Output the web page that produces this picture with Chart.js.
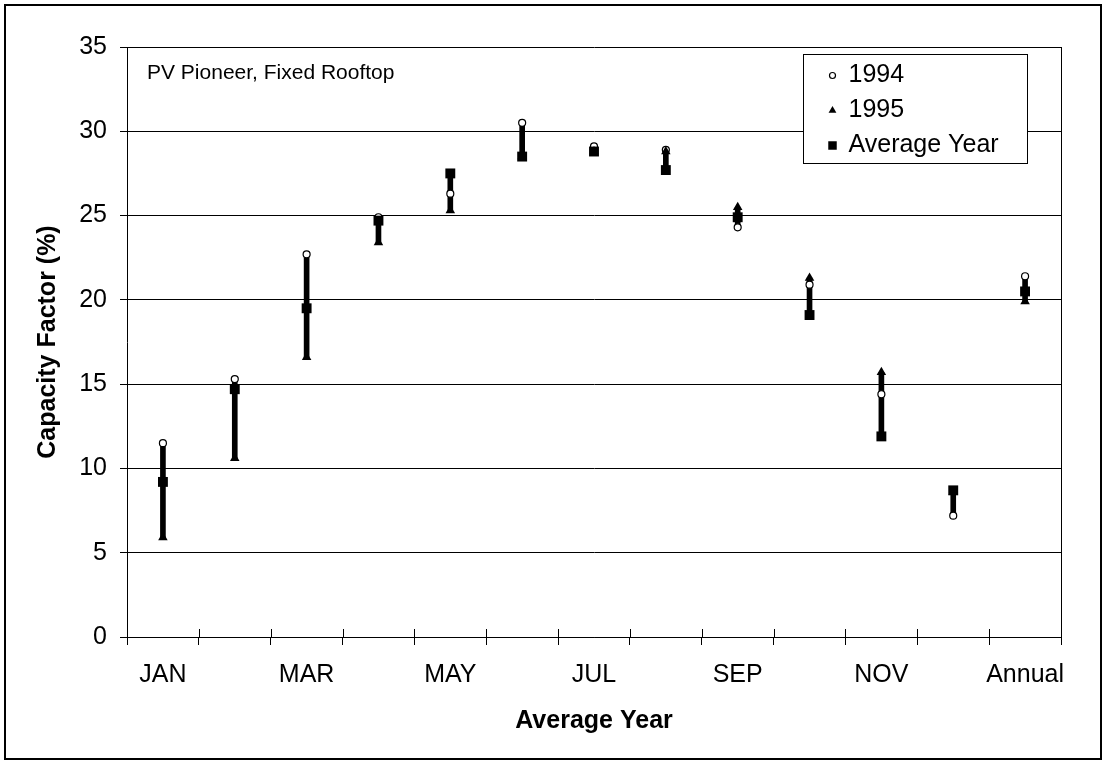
<!DOCTYPE html>
<html>
<head>
<meta charset="utf-8">
<title>PV Pioneer capacity factor</title>
<script src="https://cdn.jsdelivr.net/npm/chart.js@4.4.1/dist/chart.umd.min.js"></script>
<style>
  html, body { margin: 0; padding: 0; background: #fff; }
  canvas { display: block; }
</style>
</head>
<body>
<canvas id="cf" width="1106" height="764"></canvas>
<script>
// Monthly capacity factor (%) for the PV Pioneer fixed rooftop system
const months = ['JAN', 'FEB', 'MAR', 'APR', 'MAY', 'JUN', 'JUL', 'AUG', 'SEP', 'OCT', 'NOV', 'DEC', 'Annual'];
const cf1994 = [11.5, 15.3, 22.7, 24.9, 26.3, 30.5, 29.1, 28.9, 24.3, 20.9, 14.4, 7.2, 21.4];
const cf1995 = [5.9, 10.6, 16.6, 23.4, 25.3, 28.5, 28.8, 28.8, 25.5, 21.3, 15.7, 8.6, 19.9];
const cfAverage = [9.2, 14.7, 19.5, 24.7, 27.5, 28.5, 28.8, 27.7, 24.9, 19.1, 11.9, 8.7, 20.5];
const yMin = 0, yMax = 35, yStep = 5;

const FONT = "'Liberation Sans', Arial, sans-serif";

// High-low range between the three series for each month
const ranges = months.map((_, i) => {
  const v = [cf1994[i], cf1995[i], cfAverage[i]];
  return [Math.min(...v), Math.max(...v)];
});

function drawMarker(ctx, style, x, y, r, fill, stroke, lw) {
  ctx.save();
  ctx.beginPath();
  if (style === 'circle') {
    ctx.arc(x, y, r, 0, Math.PI * 2);
  } else if (style === 'triangle') {
    ctx.moveTo(x, y - r);
    ctx.lineTo(x + Math.sin(Math.PI / 3) * r, y + r / 2);
    ctx.lineTo(x - Math.sin(Math.PI / 3) * r, y + r / 2);
    ctx.closePath();
  } else {
    const s = Math.SQRT1_2 * r;
    ctx.rect(x - s, y - s, 2 * s, 2 * s);
  }
  ctx.fillStyle = fill;
  ctx.fill();
  if (lw) { ctx.lineWidth = lw; ctx.strokeStyle = stroke; ctx.stroke(); }
  ctx.restore();
}

// Page frame, plot border, inner half of x tick marks, note text and boxed legend
const decorations = {
  id: 'decorations',
  beforeDraw(chart) {
    const ctx = chart.ctx;
    ctx.save();
    ctx.fillStyle = '#fff';
    ctx.fillRect(0, 0, chart.width, chart.height);
    ctx.restore();
  },
  beforeDatasetsDraw(chart) {
    const ctx = chart.ctx;
    const a = chart.chartArea;
    const xs = chart.scales.x;
    ctx.save();
    ctx.strokeStyle = '#000';
    ctx.lineWidth = 1;
    // right edge of plot area
    ctx.beginPath();
    ctx.moveTo(Math.round(a.right) + 0.5, a.top);
    ctx.lineTo(Math.round(a.right) + 0.5, a.bottom);
    ctx.stroke();
    // category tick marks crossing the x axis
    const w = xs.width / months.length;
    for (let i = 0; i <= months.length; i++) {
      const x = Math.round(xs.left + i * w) + 0.5;
      ctx.beginPath();
      ctx.moveTo(x, a.bottom - 8);
      ctx.lineTo(x, a.bottom);
      ctx.stroke();
    }
    ctx.restore();
  },
  afterDraw(chart) {
    const ctx = chart.ctx;
    const a = chart.chartArea;
    ctx.save();
    // outer frame
    ctx.strokeStyle = '#000';
    ctx.lineWidth = 2;
    ctx.strokeRect(5, 5, chart.width - 10, chart.height - 10);

    // note in upper left of the plot
    ctx.fillStyle = '#000';
    ctx.font = '21px ' + FONT;
    ctx.textBaseline = 'middle';
    ctx.textAlign = 'left';
    ctx.fillText('PV Pioneer, Fixed Rooftop', a.left + 20, a.top + 26);

    // legend box
    const bx = Math.round(a.right - 258) + 0.5, by = Math.round(a.top + 7) + 0.5;
    const bw = 224, bh = 109;
    ctx.fillStyle = '#fff';
    ctx.fillRect(bx, by, bw, bh);
    ctx.lineWidth = 1;
    ctx.strokeStyle = '#000';
    ctx.strokeRect(bx, by, bw, bh);
    ctx.font = '25px ' + FONT;
    const items = chart.data.datasets.filter(d => d.type === 'line');
    items.forEach((d, k) => {
      const y = by + 21 + k * 35;
      const r = d.pointStyle === 'rect' ? 6 : (d.pointStyle === 'triangle' ? 4.5 : 3);
      drawMarker(ctx, d.pointStyle, bx + 29, y, r, d.pointBackgroundColor, d.pointBorderColor, d.pointBorderWidth);
      ctx.fillStyle = '#000';
      ctx.fillText(d.label, bx + 45, y);
    });
    ctx.restore();
  }
};

new Chart(document.getElementById('cf'), {
  type: 'bar',
  data: {
    labels: months,
    datasets: [
      {
        type: 'bar',
        label: 'range',
        data: ranges,
        backgroundColor: '#000',
        borderWidth: 0,
        barThickness: 5,
        order: 4
      },
      {
        type: 'line',
        label: '1994',
        data: cf1994,
        showLine: false,
        pointStyle: 'circle',
        pointRadius: 3.5,
        pointBackgroundColor: '#fff',
        pointBorderColor: '#000',
        pointBorderWidth: 1.2,
        order: 3
      },
      {
        type: 'line',
        label: '1995',
        data: cf1995,
        showLine: false,
        pointStyle: 'triangle',
        pointRadius: 5.5,
        pointBackgroundColor: '#000',
        pointBorderColor: '#000',
        pointBorderWidth: 0,
        order: 2
      },
      {
        type: 'line',
        label: 'Average Year',
        data: cfAverage,
        showLine: false,
        pointStyle: 'rect',
        pointRadius: 7,
        pointBackgroundColor: '#000',
        pointBorderColor: '#000',
        pointBorderWidth: 0,
        order: 1
      }
    ]
  },
  options: {
    responsive: false,
    devicePixelRatio: 1,
    animation: false,
    layout: { padding: { top: 47, right: 45, left: 0, bottom: 0 } },
    plugins: {
      legend: { display: false },
      tooltip: { enabled: false }
    },
    scales: {
      x: {
        offset: true,
        afterFit(s) { s.height = 127; },
        grid: { offset: true, drawOnChartArea: false, drawTicks: true, tickLength: 8, color: '#000', lineWidth: 1 },
        border: { color: '#000', width: 1 },
        ticks: {
          autoSkip: false,
          maxRotation: 0,
          padding: 15,
          color: '#000',
          font: { family: FONT, size: 25 },
          callback: (v, i) => (i % 2 === 0 ? months[i] : '')
        },
        title: {
          display: true,
          text: 'Average Year',
          color: '#000',
          font: { family: FONT, size: 25, weight: 'bold' },
          padding: { top: 0, bottom: 28 }
        }
      },
      y: {
        min: yMin,
        max: yMax,
        afterFit(s) { s.width = 127; },
        grid: { color: '#000', lineWidth: 1, tickLength: 7 },
        border: { color: '#000', width: 1 },
        ticks: {
          stepSize: yStep,
          padding: 13,
          color: '#000',
          font: { family: FONT, size: 25 }
        },
        title: {
          display: true,
          text: 'Capacity Factor (%)',
          color: '#000',
          font: { family: FONT, size: 25, weight: 'bold' },
          padding: { top: 33, bottom: 0 }
        }
      }
    }
  },
  plugins: [decorations]
});
</script>
</body>
</html>
